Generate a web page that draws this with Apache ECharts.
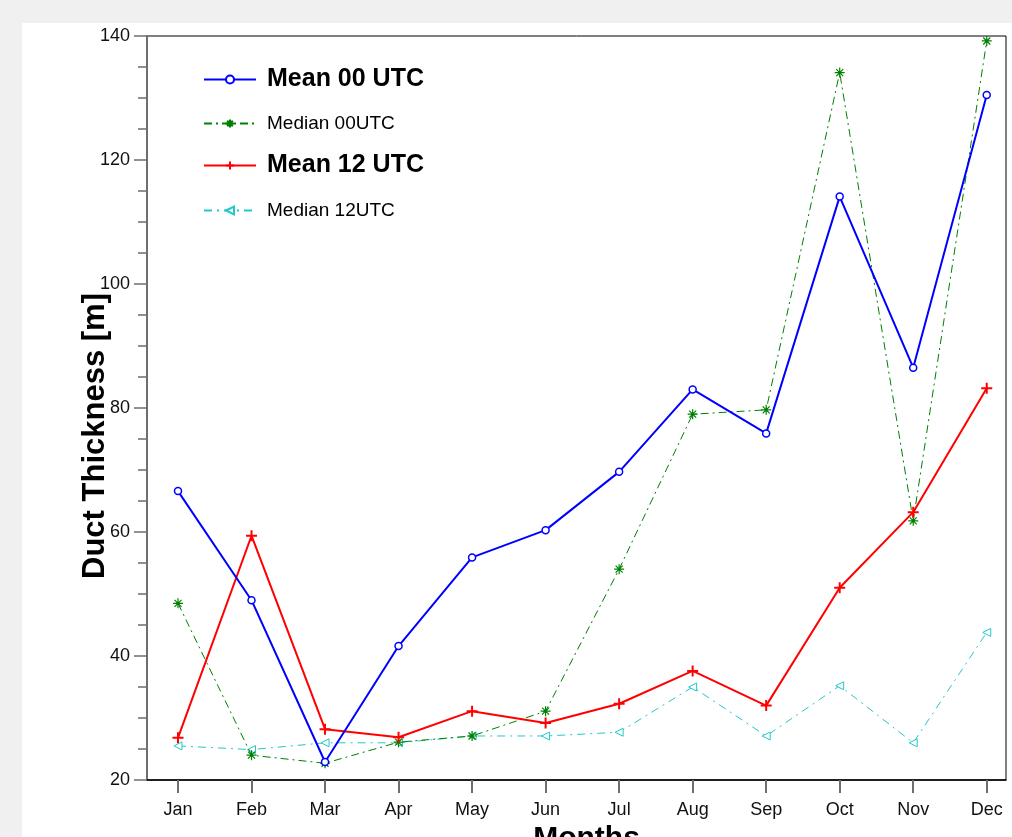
<!DOCTYPE html>
<html>
<head>
<meta charset="utf-8">
<script src="https://cdn.jsdelivr.net/npm/echarts@6/dist/echarts.min.js"></script>
<style>
html,body{margin:0;padding:0;background:#f0f0f0;width:1012px;height:837px;overflow:hidden;}
#chart{position:absolute;left:22px;top:23px;width:990px;height:814px;background:#ffffff;}
</style>
</head>
<body>
<div id="chart"></div>
<script>
const months = ['Jan','Feb','Mar','Apr','May','Jun','Jul','Aug','Sep','Oct','Nov','Dec'];
const monthIndex = [1,2,3,4,5,6,7,8,9,10,11,12];
const mean00 = [66.6, 49.0, 22.9, 41.6, 55.9, 60.3, 69.7, 83.0, 75.9, 114.1, 86.5, 130.5];
const median00 = [48.5, 24.0, 22.7, 26.1, 27.1, 31.1, 54.0, 79.0, 79.7, 134.1, 61.8, 139.2];
const mean12 = [26.8, 59.4, 28.2, 26.9, 31.1, 29.2, 32.3, 37.6, 32.0, 51.0, 63.2, 83.2];
const median12 = [25.5, 24.9, 26.0, 26.0, 27.1, 27.1, 27.7, 35.0, 27.1, 35.2, 26.0, 43.8];
const seriesNames = ['Mean 00 UTC','Median 00UTC','Mean 12 UTC','Median 12UTC'];

const FONT = "'Liberation Sans', Arial, sans-serif";
const pairs = arr => arr.map((v,i) => [monthIndex[i], v]);

const chart = echarts.init(document.getElementById('chart'), null, {renderer:'canvas'});

const BLUE = '#0000ff', GREEN = '#008000', RED = '#ff0000', CYAN = '#22c8c8';
const ASTER = 'path://M0,5L10,5M5,0L5,10M1.5,1.5L8.5,8.5M8.5,1.5L1.5,8.5';
const PLUS = 'path://M0,5L10,5M5,0L5,10';

function legendAt(name, top, bold, size) {
  return {
    data:[name], left:181, top:top, orient:'vertical', padding:0,
    itemWidth:52, itemHeight:10, selectedMode:false,
    textStyle:{fontFamily:FONT, fontSize:size, fontWeight:bold?'bold':'normal', color:'#000',
      padding:[0,0,0,6]}
  };
}

chart.setOption({
  animation:false,
  backgroundColor:'#ffffff',
  grid:{left:125, top:13, right:6, bottom:57, outerBoundsMode:'none', containLabel:false,
    show:true, borderColor:'#000', borderWidth:1, backgroundColor:'#fff'},
  legend:[
    legendAt(seriesNames[0], 44, true, 25),
    legendAt(seriesNames[1], 91, false, 19),
    legendAt(seriesNames[2], 130, true, 25),
    legendAt(seriesNames[3], 178, false, 19)
  ],
  graphic:[
    {type:'rect', left:174, top:40, shape:{width:241, height:165}, style:{fill:'none', stroke:'#000', lineWidth:1}, z:-1, silent:true},
    {type:'text', x:73, y:413, rotation:Math.PI/2, style:{text:'Duct Thickness [m]', font:"bold 31px 'Liberation Sans', Arial, sans-serif", fill:'#000', align:'center', verticalAlign:'middle'}, silent:true}
  ],
  xAxis:{
    type:'value', min:0.5785, max:12.262,
    name:'Months', nameLocation:'middle', nameGap:28,
    nameTextStyle:{fontFamily:FONT, fontSize:30, fontWeight:'bold', color:'#000', padding:[0,0,0,20]},
    axisLine:{show:true, lineStyle:{color:'#000', width:1.5}},
    axisTick:{show:true, inside:false, length:13, customValues:monthIndex, lineStyle:{color:'#6e6e6e', width:2}},
    axisLabel:{show:true, margin:21, customValues:monthIndex, fontFamily:FONT, fontSize:18, color:'#111',
      formatter: v => months[Math.round(v)-1] || ''},
    splitLine:{show:false}
  },
  yAxis:{
    type:'value', min:20, max:140, interval:20,
    axisLine:{show:true, lineStyle:{color:'#6e6e6e', width:2}},
    axisTick:{show:true, inside:false, length:13, lineStyle:{color:'#6e6e6e', width:1.5}},
    minorTick:{show:true, splitNumber:4, length:9, lineStyle:{color:'#6e6e6e', width:1.5}},
    axisLabel:{margin:17, fontFamily:FONT, fontSize:18, color:'#111'},
    splitLine:{show:false}
  },
  series:[
    {name:seriesNames[0], type:'line', data:pairs(mean00), symbol:'circle', symbolSize:7,
      lineStyle:{color:BLUE, width:2}, itemStyle:{color:'#fff', borderColor:BLUE, borderWidth:1.5}, z:5},
    {name:seriesNames[1], type:'line', data:pairs(median00), symbol:ASTER, symbolSize:10,
      lineStyle:{color:GREEN, width:1, type:[8,4,2,4]}, itemStyle:{color:'none', borderColor:GREEN, borderWidth:1.2}, z:3},
    {name:seriesNames[2], type:'line', data:pairs(mean12), symbol:PLUS, symbolSize:11,
      lineStyle:{color:RED, width:2}, itemStyle:{color:'none', borderColor:RED, borderWidth:2}, z:4},
    {name:seriesNames[3], type:'line', data:pairs(median12), symbol:'triangle', symbolRotate:90, symbolSize:8,
      lineStyle:{color:CYAN, width:1, type:[8,5,2,5]}, itemStyle:{color:'#fff', borderColor:CYAN, borderWidth:1}, z:2}
  ]
});
</script>
</body>
</html>
